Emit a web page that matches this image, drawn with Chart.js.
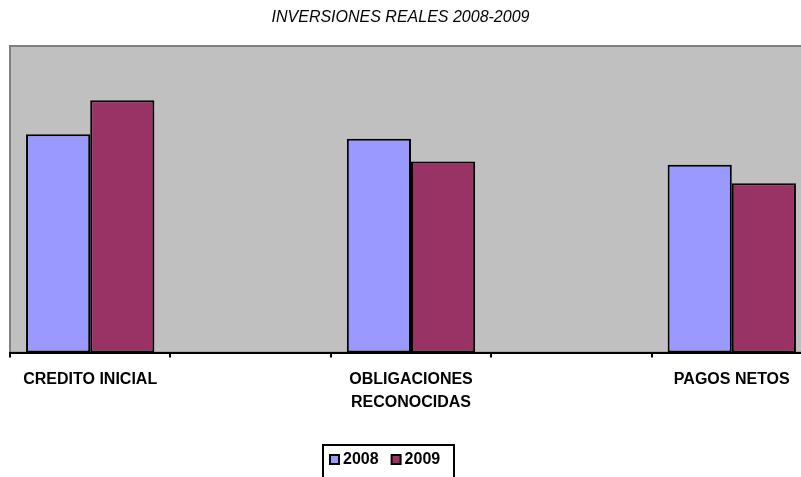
<!DOCTYPE html>
<html>
<head>
<meta charset="utf-8">
<script src="https://cdn.jsdelivr.net/npm/chart.js@4.4.1/dist/chart.umd.min.js"></script>
<style>
  html, body { margin: 0; padding: 0; background: #fff; overflow: hidden; width: 801px; height: 477px; }
  canvas { display: block; }
</style>
</head>
<body>
<!-- the plot runs past the right edge of the window, as in the original -->
<canvas id="chart" width="814" height="477"></canvas>
<script>
// chart data (empty slots between the groups, as in the original sheet)
const categories = ['CREDITO INICIAL', '', 'OBLIGACIONES RECONOCIDAS', '', 'PAGOS NETOS'];
const values2008 = [25.0, null, 24.5, null, 21.5];
const values2009 = [28.9, null, 21.9, null, 19.4];
const seriesNames = ['2008', '2009'];
const chartTitle = 'INVERSIONES REALES 2008-2009';

const FONT = 'Arial, "Liberation Sans", sans-serif';

// gray plot area with its border
const plotBackground = {
    id: 'plotBackground',
    beforeDraw(chart) {
        const a = chart.chartArea;
        const ctx = chart.ctx;
        ctx.save();
        ctx.fillStyle = '#C0C0C0';
        ctx.fillRect(a.left, a.top, a.right - a.left, a.bottom - a.top);
        ctx.strokeStyle = '#808080';
        ctx.lineWidth = 2;
        ctx.strokeRect(a.left, a.top - 1, a.right - a.left, a.bottom - a.top + 1);
        ctx.restore();
    }
};

// title centred on the visible window, not on the wider canvas
const windowTitle = {
    id: 'windowTitle',
    afterDraw(chart) {
        const ctx = chart.ctx;
        ctx.save();
        ctx.font = 'italic 16px ' + FONT;
        ctx.fillStyle = '#000';
        ctx.textAlign = 'center';
        ctx.textBaseline = 'middle';
        ctx.fillText(chartTitle, 400.5, 17.5);
        ctx.restore();
    }
};

// boxed legend at the bottom
const boxedLegend = {
    id: 'boxedLegend',
    afterDraw(chart) {
        const ctx = chart.ctx;
        ctx.save();
        ctx.lineWidth = 2;
        ctx.strokeStyle = '#000';
        ctx.strokeRect(323, 445, 131, 40);
        ctx.font = 'bold 16px ' + FONT;
        ctx.textBaseline = 'middle';
        let x = 330;
        chart.data.datasets.forEach(ds => {
            ctx.fillStyle = ds.backgroundColor;
            ctx.fillRect(x, 455, 9, 9);
            ctx.strokeRect(x, 455, 9, 9);
            ctx.fillStyle = '#000';
            ctx.fillText(ds.label, x + 13, 460);
            x += 13 + ctx.measureText(ds.label).width + 13;
        });
        ctx.restore();
    }
};

new Chart(document.getElementById('chart'), {
    type: 'bar',
    data: {
        labels: categories,
        datasets: [
            {
                label: seriesNames[0],
                data: values2008,
                backgroundColor: '#9999FF',
                borderColor: '#000000',
                borderWidth: 2,
                borderSkipped: false
            },
            {
                label: seriesNames[1],
                data: values2009,
                backgroundColor: '#993366',
                borderColor: '#000000',
                borderWidth: 2,
                borderSkipped: false
            }
        ]
    },
    options: {
        responsive: false,
        animation: false,
        categoryPercentage: 0.8,
        barPercentage: 1.0,
        layout: { padding: { left: 10, right: 2, top: 47, bottom: 53 } },
        plugins: {
            legend: { display: false },
            tooltip: { enabled: false },
            title: { display: false }
        },
        scales: {
            x: {
                grid: {
                    offset: true,
                    drawOnChartArea: false,
                    drawTicks: true,
                    tickLength: 5,
                    color: '#000',
                    lineWidth: 2
                },
                border: { color: '#000', width: 2 },
                ticks: {
                    color: '#000',
                    padding: 10,
                    maxRotation: 0,
                    autoSkip: false,
                    font: { family: FONT, size: 16, weight: 'bold', lineHeight: 1.45 },
                    callback: function(value) {
                        const label = categories[value];
                        // long names wrap onto two lines
                        return label.length > 16 ? label.split(' ') : label;
                    }
                }
            },
            y: {
                display: false,
                min: 0,
                max: 35
            }
        }
    },
    plugins: [plotBackground, windowTitle, boxedLegend]
});
</script>
</body>
</html>
